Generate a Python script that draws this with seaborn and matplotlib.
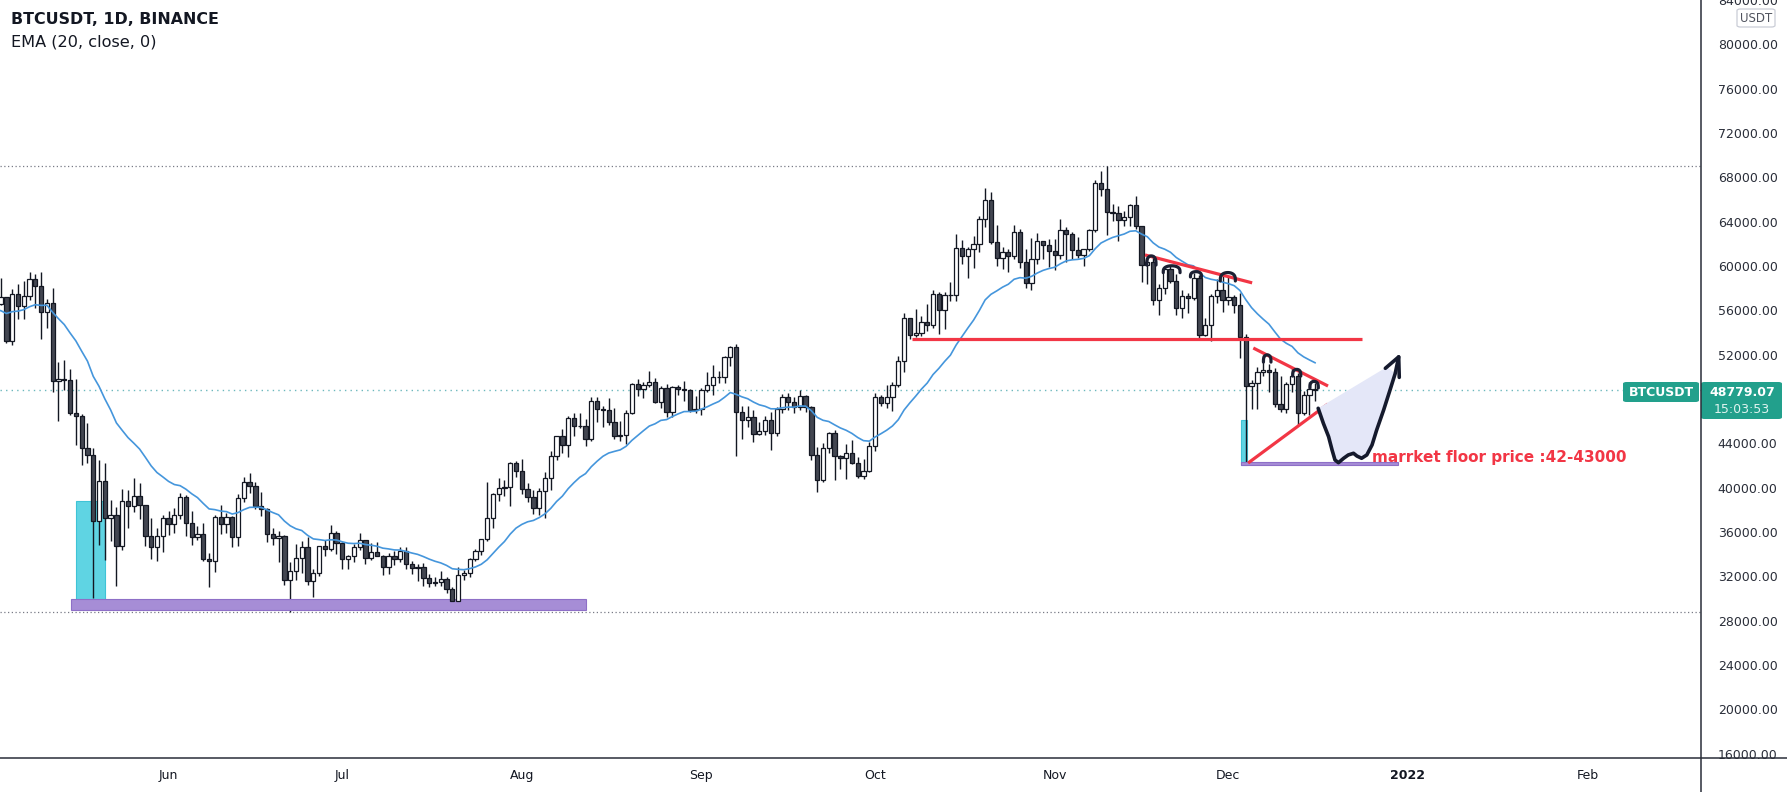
import numpy as np
import pandas as pd
import matplotlib
matplotlib.use("Agg")
import matplotlib.pyplot as plt
import matplotlib.dates as mdates
from matplotlib.patches import Rectangle, FancyBboxPatch, Polygon
from matplotlib.lines import Line2D
import seaborn as sns

# ---------------- DATA (BTCUSDT daily, Binance) ----------------
# warm-up closes for EMA (April 2021)
apr_close = [58730, 58970, 57090, 58200, 59120, 57990, 55950, 58080, 58090, 59780,
             59850, 59980, 63580, 62960, 63160, 61330, 60000, 56150, 55660, 56470,
             53800, 51700, 51190, 50100, 49070, 54030, 55050, 54880, 53580, 57700]

may_close = [57800, 56580, 57170, 53200, 57440, 56390, 57310, 58860, 58240, 55820, 56670, 49630, 49840, 49680, 46760, 46430,
             43540, 42900, 36960, 40570, 37290, 37530, 34690, 38800, 38320, 39240, 38440, 35660, 34610, 35670, 37250]
may_high = [58450, 57950, 58950, 57230, 57950, 58360, 58650, 59500, 59300, 59500, 57000, 58000, 51370, 51560, 50700, 49800,
            46650, 45800, 43550, 42450, 42200, 38850, 38250, 39900, 39800, 40900, 40400, 38200, 37300, 36400, 37500]
may_low = [57050, 56000, 56480, 53050, 52900, 55200, 55240, 56900, 56240, 53400, 54400, 48600, 46000, 48800, 46550, 43830,
           42000, 42250, 30000, 34800, 33500, 35200, 31100, 34400, 36400, 37800, 37200, 34700, 33600, 33400, 34200]

jun_close = [36690, 37570, 39190, 36850, 35520, 35800, 33560, 33400, 37390, 36690, 37330, 35550, 39020, 40530, 40160,
             38350, 38090, 35820, 35480, 35600, 31680, 32500, 33680, 34660, 31590, 32280, 34700, 34490, 35910, 35040]
jun_high = [37900, 38200, 39500, 39300, 37900, 36500, 36800, 34100, 37530, 38400, 37700, 37450, 39400, 41000, 41300,
            40500, 39600, 38200, 36400, 36100, 35750, 33300, 34900, 35200, 35500, 32700, 34750, 35300, 36600, 36100]
jun_low = [35700, 35900, 37200, 35600, 34800, 35250, 33400, 31000, 32400, 35800, 35900, 34600, 34750, 38700, 39500,
           38100, 37400, 35100, 34800, 33300, 31250, 28800, 31700, 32300, 31250, 30150, 32000, 33850, 34250, 34000]

jul_close = [33570, 33800, 34670, 35290, 33690, 34220, 33860, 32880, 33810, 33520, 34260, 33090, 32730, 32820, 31880, 31380,
             31520, 31780, 30840, 29790, 32140, 32300, 33590, 34290, 35380, 37270, 39460, 40000, 40030, 42230, 41460]
jul_high = [35050, 33950, 34950, 35950, 35300, 35000, 35100, 33950, 34100, 34250, 34600, 34680, 33350, 33100, 33200, 32250,
            31950, 32450, 31900, 31050, 32850, 32600, 33650, 34500, 35400, 40550, 39550, 40900, 40650, 42300, 42400]
jul_low = [32700, 32700, 33300, 34350, 33150, 33500, 33800, 32100, 32250, 33000, 33300, 32650, 32200, 31600, 31150, 31000,
           31150, 31150, 30450, 29300, 29500, 31700, 31900, 33400, 33900, 35200, 36400, 38800, 39200, 38300, 41000]

aug_close = [39850, 39150, 38200, 39740, 40870, 42830, 44620, 43820, 46290, 45590, 45550, 44420, 47830, 47100, 47020, 45940,
             44690, 44710, 46760, 49340, 48870, 49290, 49510, 47710, 48990, 46850, 49070, 48900, 48800, 46990, 47130]
aug_high = [42600, 40450, 39800, 39950, 41400, 43300, 44700, 45300, 46450, 46700, 46750, 46200, 48150, 48150, 47400, 48050,
            47150, 46000, 47050, 49400, 49800, 49500, 50500, 49850, 49200, 49350, 49200, 49300, 49650, 48900, 48250]
aug_low = [39400, 38700, 37600, 37500, 37300, 39800, 42450, 43100, 42800, 44700, 45350, 43800, 44250, 45950, 45500, 45650,
           44400, 44200, 43950, 46650, 48300, 48100, 49050, 47600, 47150, 46350, 46400, 48400, 47800, 46850, 46700]

sep_close = [48840, 49280, 49940, 49940, 51770, 52660, 46860, 46070, 46400, 44850, 45140, 46060, 44960, 47110, 48140,
             47760, 47300, 48300, 47260, 42970, 40690, 43570, 44900, 42840, 42700, 43170, 42200, 41030, 41520, 43790]
sep_high = [48950, 50450, 51050, 50550, 51900, 52800, 52950, 47400, 47350, 47050, 45950, 46450, 46850, 47250, 48450,
            48500, 48150, 48800, 48350, 47350, 43650, 44000, 45000, 45200, 42950, 43950, 44300, 42800, 42600, 44150]
sep_low = [46550, 48600, 48400, 49400, 49450, 50950, 42850, 44400, 45500, 44150, 44750, 44750, 43400, 44700, 46700,
           47050, 46750, 47050, 46850, 42500, 39600, 40550, 43100, 40700, 41650, 40800, 42100, 40900, 40750, 41400]

oct_close = [48140, 47660, 48200, 49220, 51470, 55320, 53800, 53960, 54960, 54660, 57470, 56000, 57370, 57350, 61670, 60880,
             61530, 62010, 64280, 66000, 62210, 60690, 61290, 60860, 63080, 60330, 58450, 60590, 62250, 61890, 61320]
oct_high = [48500, 48350, 49250, 49500, 51900, 55750, 55350, 56100, 55500, 56550, 57850, 57700, 57700, 58550, 62900, 62350,
            61700, 62700, 64500, 67000, 66650, 63700, 61750, 61500, 63700, 63300, 61500, 62500, 62950, 62300, 62400]
oct_low = [43300, 47400, 47150, 46950, 49050, 50400, 53400, 53600, 53650, 54100, 54400, 53900, 54300, 56850, 56850, 60150,
           58950, 59850, 61300, 63500, 62000, 60000, 59700, 59500, 60650, 59800, 58000, 57800, 60150, 60650, 59950]

nov_close = [61000, 63220, 62930, 61440, 61010, 61530, 63270, 67530, 66940, 64880, 64810, 64150, 64400, 65500, 63610,
             60060, 60360, 56890, 58050, 59700, 58620, 56250, 57270, 57140, 58960, 53730, 54720, 57270, 57800, 56950]
nov_high = [62450, 64250, 63500, 63100, 62600, 61550, 63300, 67800, 68550, 69000, 65600, 65450, 65000, 65600, 66300,
            63650, 60850, 60950, 58350, 59850, 60000, 59300, 57850, 57600, 59400, 59200, 55300, 57450, 58850, 59200]
nov_low = [59600, 60650, 60400, 60650, 60700, 60000, 61350, 63100, 66300, 62800, 64100, 62300, 63600, 63600, 63350,
           58550, 58400, 56500, 55600, 57450, 58500, 55600, 55300, 55800, 56900, 53500, 53650, 53250, 56700, 55850]

dec_close = [57180, 56480, 53600, 49150, 49400, 50440, 50590, 50470, 47540, 47140, 49390, 50050, 46700, 48340, 48860, 48779.07]
dec_high = [59050, 57400, 57600, 53850, 49700, 50900, 51950, 51200, 50800, 50100, 49500, 50800, 50350, 48700, 49500, 49450]
dec_low = [56450, 55800, 51700, 42000, 47100, 47100, 50050, 48600, 47300, 46850, 46750, 48650, 45650, 46550, 46550, 47800]

start_date = "2021-05-01"
last_price = 48779.07
countdown = "15:03:53"

price_ticks = [16000, 20000, 24000, 28000, 32000, 36000, 40000, 44000, 52000, 56000, 60000,
               64000, 68000, 72000, 76000, 80000, 84000]
month_ticks = ["2021-06-01", "2021-07-01", "2021-08-01", "2021-09-01", "2021-10-01",
               "2021-11-01", "2021-12-01", "2022-01-01", "2022-02-01"]
month_labels = ["Jun", "Jul", "Aug", "Sep", "Oct", "Nov", "Dec", "2022", "Feb"]

ath_level = 69000
low_level = 28800

# drawings (day offset from 2021-06-01, price)
red_hline = [(128.4, 53400), (206.0, 53400)]
red_nov = [(168.6, 61000), (187.1, 58480)]
red_dec_top = [(187.3, 52600), (200.2, 49170)]
red_dec_bot = [(186.4, 42220), (200.2, 47550)]
arches = [(169.7, 60090, 0.8, 820), (173.2, 59400, 1.45, 620), (177.4, 59010, 0.95, 480),
          (182.9, 58650, 1.3, 760), (189.7, 51330, 0.65, 650), (194.8, 50070, 0.7, 600),
          (197.8, 48990, 0.72, 600)]
path_pts = [(198.5, 47160), (199.4, 45800), (200.3, 44600), (200.9, 43400), (201.4, 42500), (202.0, 42250),
            (202.9, 42650), (203.7, 42950), (204.6, 43100), (205.2, 42850), (206.0, 42650), (206.9, 42950),
            (207.8, 43850), (208.6, 45200), (209.8, 47000), (210.9, 48800), (211.8, 50300), (212.4, 51800)]
arrow_head = [(210.1, 50770), (212.4, 51800), (212.5, 49950)]
fill_corner = (210.4, 50900)
cyan_may = (-15.9, 29900, 4.9, 8900)
purple_may = (-16.8, 29000, 88.9, 920)
cyan_dec = (185.2, 42000, 1.0, 4100)
purple_dec = (185.2, 42000, 27.0, 330)
note_pos = (207.8, 42350)
note_text = "marrket floor price :42-43000"

# ---------------- FIGURE ----------------
sns.set_theme(style="white")
plt.rcParams["font.family"] = ["DejaVu Sans"]

W, H = 1787, 792
AX_R, AX_B = 1701, 758
fig = plt.figure(figsize=(W / 100, H / 100), dpi=100)
fig.patch.set_facecolor("white")
ax = fig.add_axes([0, (H - AX_B) / H, AX_R / W, AX_B / H])
ax.set_facecolor("white")

close = np.array(may_close + jun_close + jul_close + aug_close + sep_close + oct_close + nov_close + dec_close, float)
high = np.array(may_high + jun_high + jul_high + aug_high + sep_high + oct_high + nov_high + dec_high, float)
low = np.array(may_low + jun_low + jul_low + aug_low + sep_low + oct_low + nov_low + dec_low, float)
opn = np.concatenate([[apr_close[-1]], close[:-1]])
dates = pd.date_range(start_date, periods=len(close))
x = mdates.date2num(dates)

a0 = mdates.date2num(pd.Timestamp("2021-06-01"))
def dx(d):
    return a0 + d

INK = "#131722"
# wicks
ax.vlines(x, low, high, color=INK, linewidth=1.0, zorder=2)
up = close >= opn
ax.bar(x[up], (close - opn)[up], bottom=opn[up], width=0.74, color="white",
       edgecolor=INK, linewidth=0.9, zorder=3)
ax.bar(x[~up], (opn - close)[~up], bottom=close[~up], width=0.74, color="#434651",
       edgecolor=INK, linewidth=0.9, zorder=3)

# EMA 20
ema = pd.Series(apr_close + list(close)).ewm(span=20, adjust=False).mean().values[len(apr_close):]
sns.lineplot(x=x, y=ema, ax=ax, color="#4596dc", linewidth=1.2, zorder=4)

# horizontal dotted lines
ax.axhline(ath_level, color="#787b86", linestyle=(0, (1, 2)), linewidth=0.9, zorder=1)
ax.axhline(low_level, color="#787b86", linestyle=(0, (1, 2)), linewidth=0.9, zorder=1)
ax.axhline(last_price, color="#6cb8bd", linestyle=(0, (1, 3)), linewidth=1.0, zorder=1)

# boxes
def rect(spec, fc, ec, z=2.5, alpha=1.0):
    d, p, w, h = spec
    ax.add_patch(Rectangle((dx(d), p), w, h, facecolor=fc, edgecolor=ec, linewidth=0.8, zorder=z, alpha=alpha))

rect(purple_may, "#a68dd6", "#8e6fc7", z=2.5)
rect(cyan_may, "#5fd4e3", "#3fc3d6", z=1.5)
rect(purple_dec, "#a68dd6", "#8e6fc7", z=2.5)
rect(cyan_dec, "#5fd4e3", "#3fc3d6", z=1.5)

RED = "#f23645"
for seg in (red_hline, red_nov, red_dec_top, red_dec_bot):
    ax.plot([dx(seg[0][0]), dx(seg[1][0])], [seg[0][1], seg[1][1]], color=RED,
            linewidth=2.3, solid_capstyle="butt", zorder=5)

# hand drawn arches
t = np.linspace(0, np.pi, 40)
for cx, base, w, h in arches:
    ax.plot(dx(cx) + w * np.cos(t), base + h * np.sin(t) ** 0.6, color="#1c2033",
            linewidth=2.3, solid_capstyle="round", zorder=6)

# projected path with shading
px = [dx(d) for d, _ in path_pts]
py = [p for _, p in path_pts]
poly = [(dx(d), p) for d, p in path_pts[:-1]] + [(dx(fill_corner[0]), fill_corner[1])]
ax.add_patch(Polygon(poly, closed=True, facecolor="#e4e7f8", edgecolor="none", zorder=5))
ax.plot(px, py, color="#151a2d", linewidth=2.6, solid_capstyle="round", solid_joinstyle="round", zorder=6)
ax.plot([dx(d) for d, _ in arrow_head], [p for _, p in arrow_head], color="#151a2d",
        linewidth=2.6, solid_capstyle="round", solid_joinstyle="round", zorder=6)

ax.text(dx(note_pos[0]), note_pos[1], note_text, color=RED, fontsize=11, fontweight="bold",
        ha="left", va="baseline", zorder=7)

# axes limits / ticks
ax.set_xlim(dx(-29.1), dx(264.6))
ax.set_ylim(15600, 84007)
ax.set_xlabel("")
ax.set_ylabel("")
for s in ax.spines.values():
    s.set_visible(False)
ax.grid(False)

ax.set_xticks(mdates.date2num(pd.to_datetime(month_ticks)))
ax.set_xticklabels(month_labels)
ax.tick_params(axis="x", length=0, pad=8, labelsize=9, labelcolor=INK)
ax.get_xticklabels()[7].set_fontweight("bold")

ax.yaxis.tick_right()
ax.set_yticks(price_ticks)
ax.set_yticklabels([f"{v:.2f}" for v in price_ticks])
ax.tick_params(axis="y", length=0, pad=12, labelsize=9, labelcolor="#2a2e39")
for lab in ax.get_yticklabels():
    lab.set_horizontalalignment("left")

# frame lines (figure level)
def fx(p):
    return p / W
def fy(p):
    return 1 - p / H
fig.add_artist(Line2D([0, 1], [fy(AX_B), fy(AX_B)], color="#2a2e39", linewidth=1.1))
fig.add_artist(Line2D([fx(AX_R), fx(AX_R)], [0, 1], color="#2a2e39", linewidth=1.1))

# header texts
fig.text(fx(11), fy(20), "BTCUSDT, 1D, BINANCE", fontsize=11.4, fontweight="bold", color=INK,
         ha="left", va="center")
fig.text(fx(11), fy(42), "EMA (20, close, 0)", fontsize=11.6, color=INK, ha="left", va="center")

# USDT badge
fig.add_artist(FancyBboxPatch((fx(1737), fy(27)), fx(38), 18 / H, boxstyle="round,pad=0,rounding_size=0.002",
                              facecolor="white", edgecolor="#c9ccd6", linewidth=0.9, transform=fig.transFigure))
fig.text(fx(1756), fy(18), "USDT", fontsize=8.5, color="#50535e", ha="center", va="center")

# last price labels
TEAL = "#22a08c"
fig.add_artist(FancyBboxPatch((fx(1701), fy(419)), fx(81), 37 / H, boxstyle="round,pad=0,rounding_size=0.002",
                              facecolor=TEAL, edgecolor="none", transform=fig.transFigure))
fig.text(fx(1742), fy(392), f"{last_price:.2f}", fontsize=9, fontweight="bold", color="white",
         ha="center", va="center")
fig.text(fx(1742), fy(410), countdown, fontsize=9, color="#dff3ef", ha="center", va="center")
fig.add_artist(FancyBboxPatch((fx(1623), fy(402)), fx(76), 20 / H, boxstyle="round,pad=0,rounding_size=0.002",
                              facecolor=TEAL, edgecolor="none", transform=fig.transFigure))
fig.text(fx(1661), fy(392), "BTCUSDT", fontsize=9, fontweight="bold", color="white", ha="center", va="center")

fig.savefig("out.png", dpi=100)
